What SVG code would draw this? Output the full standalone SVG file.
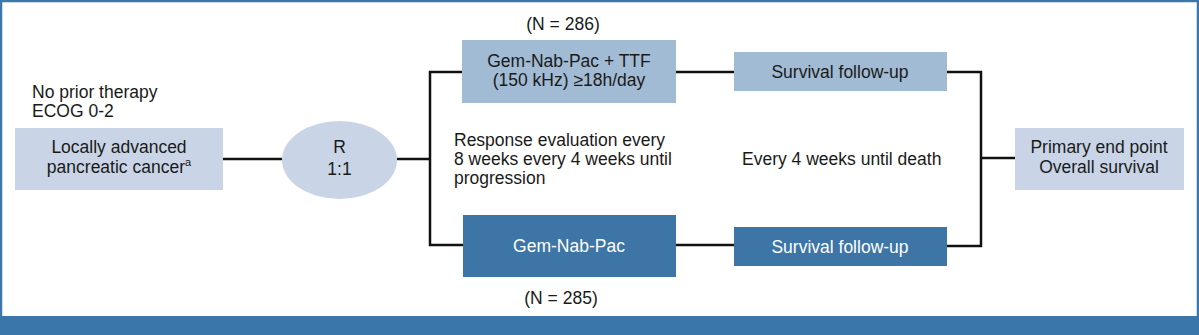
<svg xmlns="http://www.w3.org/2000/svg" width="1199" height="335" viewBox="0 0 1199 335">
<style>
text{font-family:"Liberation Sans",Arial,sans-serif;font-size:17.5px;fill:#1a1a1a}
.c{text-anchor:middle}
.w{fill:#ffffff}
.pale{fill:#c9d5e6}
.mid{fill:#a2bbd4}
.dark{fill:#3d75a6}
.ln{stroke:#111;stroke-width:2.5;fill:none}
</style>
<rect x="0" y="0" width="1199" height="335" fill="#ffffff"/>
<path d="M1,316V1H1198V316" fill="none" stroke="#3b77ab" stroke-width="2.5"/>
<rect x="0" y="316" width="1199" height="19" fill="#3a76aa"/>
<g id="connectors">
<path class="ln" d="M223,159H282"/>
<path class="ln" d="M397,159H430"/>
<path class="ln" d="M462,72H430V245H463"/>
<path class="ln" d="M676,72H734"/>
<path class="ln" d="M676,245H734"/>
<path class="ln" d="M947,72H981V246H947"/>
<path class="ln" d="M981,158H1015"/>
</g>
<g id="eligibility">
<text x="32" y="98">No prior therapy</text>
<text x="32" y="117">ECOG 0-2</text>
</g>
<g id="population">
<rect class="pale" x="15" y="128" width="208" height="62"/>
<text class="c" x="119" y="153">Locally advanced</text>
<text class="c" x="119" y="173">pancreatic cancer<tspan font-size="11" dy="-7">a</tspan></text>
</g>
<g id="randomization">
<ellipse class="pale" cx="339.5" cy="160" rx="57.5" ry="39"/>
<text class="c" x="339.5" y="153">R</text>
<text class="c" x="339.5" y="175">1:1</text>
</g>
<g id="arm-ttf">
<text class="c" x="563" y="30">(N = 286)</text>
<rect class="mid" x="462" y="40" width="214" height="63"/>
<text class="c" x="569" y="67">Gem-Nab-Pac + TTF</text>
<text class="c" x="569" y="86">(150 kHz) ≥18h/day</text>
</g>
<g id="followup-ttf">
<rect class="mid" x="734" y="52" width="213" height="39"/>
<text class="c" x="840" y="78">Survival follow-up</text>
</g>
<g id="arm-control">
<rect class="dark" x="463" y="215" width="213" height="62"/>
<text class="c w" x="569" y="252">Gem-Nab-Pac</text>
<text class="c" x="561" y="304">(N = 285)</text>
</g>
<g id="followup-control">
<rect class="dark" x="734" y="227" width="213" height="39"/>
<text class="c w" x="840" y="253">Survival follow-up</text>
</g>
<g id="response-note">
<text x="454" y="146">Response evaluation every</text>
<text x="454" y="165">8 weeks every 4 weeks until</text>
<text x="454" y="184">progression</text>
</g>
<g id="followup-note">
<text x="742" y="165">Every 4 weeks until death</text>
</g>
<g id="endpoint">
<rect class="pale" x="1015" y="128" width="169" height="62"/>
<text class="c" x="1099" y="153">Primary end point</text>
<text class="c" x="1099" y="173">Overall survival</text>
</g>
</svg>
